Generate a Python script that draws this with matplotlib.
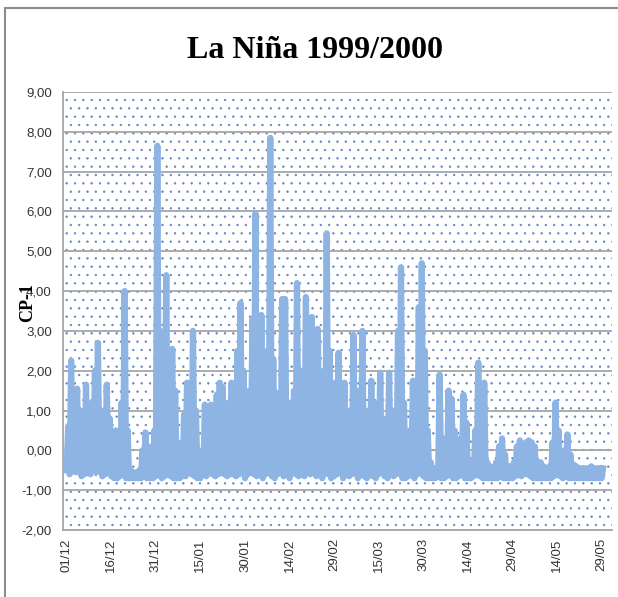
import numpy as np
import pandas as pd
import matplotlib
matplotlib.use('Agg')
import matplotlib.pyplot as plt
import matplotlib.dates as mdates
from matplotlib.patches import Rectangle
from matplotlib.ticker import FuncFormatter

# daily peak and daily trough (01/12/1999 onwards)
daily_high = [
    0.6, 2.25, 0.8, 1.55, 1.0, 0.6, 1.65, 0.9, 1.2, 2.0, 2.7, 1.0, 0.6, 1.65, 0.8, 0.2, 0.5, 0.3, 1.2, 4.0,
    0.5, -0.5, -0.55, -0.55, -0.5, 0.0, 0.45, 0.1, -0.4, 0.5, 7.65, 3.0, 0.5, 4.4, 1.5, 2.55, 1.5, 0.2, -0.2, 0.9,
    1.7, 0.8, 3.0, 1.0, 0.0, -0.3, 1.15, 0.2, 1.15, 0.3, 1.4, 1.7, 1.6, 0.5, 1.2, 1.7, 1.1, 2.5, 3.7,
    2.0, 0.5, 1.5, 3.3, 5.95, 2.5, 3.4, 1.0, 2.5, 7.85, 2.3, 1.45, 0.5, 3.8, 3.8, 1.2, 0.3, 1.5, 4.2, 2.0,
    0.8, 3.85, 1.5, 3.35, 1.8, 3.05, 1.0, 2.0, 5.45, 2.5, 0.5, 1.7, 2.45, 1.0, 1.7, 0.2, 1.0, 2.9, 0.8, 1.5,
    3.0, 1.0, 0.5, 1.75, 1.2, 0.5, 1.95, 0.8, 0.5, 1.95, 1.0, 0.5, 3.0, 4.6, 1.2, 0.0, 0.5, 1.75, 0.8, 3.6,
    4.7, 2.5, 0.5, -0.3, -0.45, -0.45, 1.9, 0.3, -0.3, 1.5, 1.3, 0.5, -0.4, 0.3, 1.4, 0.7, -0.3, -0.4, 0.5, 2.2,
    0.8, 1.7, -0.3, -0.4, -0.45, -0.3, 0.1, 0.3, -0.1, -0.4, -0.4, -0.3, 0.1, 0.25, 0.15, 0.2, 0.25, 0.2, 0.1,
    -0.3, -0.3, -0.4, -0.45, -0.4, 0.2, 1.2, 0.5, -0.3, 0.0, 0.4, -0.1, -0.35, -0.4, -0.45, -0.45, -0.45, -0.45,
    -0.4, -0.45, -0.45, -0.45, -0.45,
]
daily_low = [
    -0.5, -0.6, -0.4, -0.55, -0.3, -0.65, -0.6, -0.45, -0.6, -0.5, -0.55, -0.4, -0.65, -0.6, -0.55, -0.65, -0.7, -0.7, -0.65, -0.6,
    -0.7, -0.7, -0.7, -0.7, -0.7, -0.7, -0.65, -0.7, -0.7, -0.7, -0.65, -0.6, -0.7, -0.65, -0.6, -0.65, -0.7, -0.7, -0.7, -0.65,
    -0.65, -0.5, -0.6, -0.65, -0.7, -0.7, -0.6, -0.65, -0.55, -0.6, -0.65, -0.6, -0.55, -0.6, -0.65, -0.6, -0.6, -0.65, -0.6,
    -0.55, -0.7, -0.6, -0.55, -0.6, -0.65, -0.5, -0.7, -0.6, -0.55, -0.65, -0.7, -0.6, -0.5, -0.65, -0.6, -0.7, -0.55, -0.6, -0.65,
    -0.6, -0.65, -0.55, -0.6, -0.5, -0.65, -0.6, -0.7, -0.55, -0.6, -0.7, -0.65, -0.6, -0.55, -0.7, -0.6, -0.65, -0.6, -0.55, -0.7,
    -0.6, -0.65, -0.7, -0.6, -0.65, -0.7, -0.6, -0.55, -0.65, -0.7, -0.6, -0.65, -0.6, -0.55, -0.7, -0.7, -0.65, -0.6, -0.7, -0.6,
    -0.55, -0.65, -0.7, -0.7, -0.7, -0.7, -0.65, -0.7, -0.7, -0.65, -0.6, -0.7, -0.7, -0.65, -0.6, -0.7, -0.7, -0.7, -0.65, -0.6,
    -0.65, -0.7, -0.7, -0.7, -0.7, -0.7, -0.7, -0.65, -0.7, -0.7, -0.7, -0.7, -0.65, -0.6, -0.65, -0.6, -0.6, -0.65, -0.7, -0.7,
    -0.7, -0.7, -0.7, -0.7, -0.7, -0.65, -0.6, -0.65, -0.7, -0.65, -0.7, -0.7, -0.7, -0.7, -0.7, -0.7, -0.7, -0.7, -0.7, -0.7,
    -0.7, -0.7,
]
start = pd.Timestamp('1999-12-01')
tick_dates = pd.date_range(start, periods=13, freq='15D')
y_ticks = np.arange(-2, 10, 1)

plt.rcParams['font.family'] = ['Liberation Sans Narrow', 'Liberation Sans', 'DejaVu Sans']
plt.rcParams['hatch.linewidth'] = 0.45

# two readings a day: trough then peak
times = pd.date_range(start, periods=2 * len(daily_high), freq='12h')
values = np.column_stack([daily_low, daily_high]).ravel()

fig = plt.figure(figsize=(6.18, 5.97), dpi=100)
ax = fig.add_axes([63 / 618, 1 - 530 / 597, (612 - 63) / 618, (530 - 92) / 597])

# outer chart frame (only left and top edges fall inside the picture)
fig.add_artist(Rectangle((5 / 618, -0.1), 1.2, 1 - 8 / 597 + 0.1, transform=fig.transFigure,
                         fill=False, edgecolor='#8c8c8c', linewidth=1.5))

# dotted plot-area fill
bg = Rectangle((0, 0), 1, 1, transform=ax.transAxes, facecolor='white',
               edgecolor='#5b86c4', hatch='..', linewidth=0, zorder=0)
ax.add_patch(bg)

ax.plot(times, values, color='#8eb4e3', linewidth=4.5, solid_joinstyle='round', zorder=3)

ax.set_ylim(-2, 9)
ax.set_yticks(y_ticks)
ax.yaxis.set_major_formatter(FuncFormatter(lambda v, p: f'{v:.2f}'.replace('.', ',')))
ax.set_xlim((start - pd.Timedelta(days=1.24)).to_pydatetime(),
            (start + pd.Timedelta(days=183.5)).to_pydatetime())
ax.set_xticks(tick_dates.to_pydatetime())
ax.xaxis.set_major_formatter(mdates.DateFormatter('%d/%m'))
ax.tick_params(axis='both', length=0, labelsize=9.5, labelcolor='#333333')
ax.tick_params(axis='y', pad=8)
ax.tick_params(axis='x', pad=6)
plt.setp(ax.get_xticklabels(), rotation=90)

ax.yaxis.grid(True, color='#a6a6a6', linewidth=1.3)
ax.set_axisbelow(True)
for side in ['top', 'right']:
    ax.spines[side].set_visible(False)
for side in ['left', 'bottom']:
    ax.spines[side].set_color('#a6a6a6')
    ax.spines[side].set_linewidth(1.3)

fig.text(315 / 618, 1 - 51 / 597, 'La Niña 1999/2000', ha='center', va='center',
         fontsize=23, fontweight='bold', family=['Liberation Serif', 'DejaVu Serif'])
fig.text(28 / 618, 1 - 303 / 597, 'CP-1', ha='center', va='center', rotation=90,
         fontsize=13, fontweight='bold', family=['Liberation Serif', 'DejaVu Serif'])

fig.savefig('out.png', dpi=100)
